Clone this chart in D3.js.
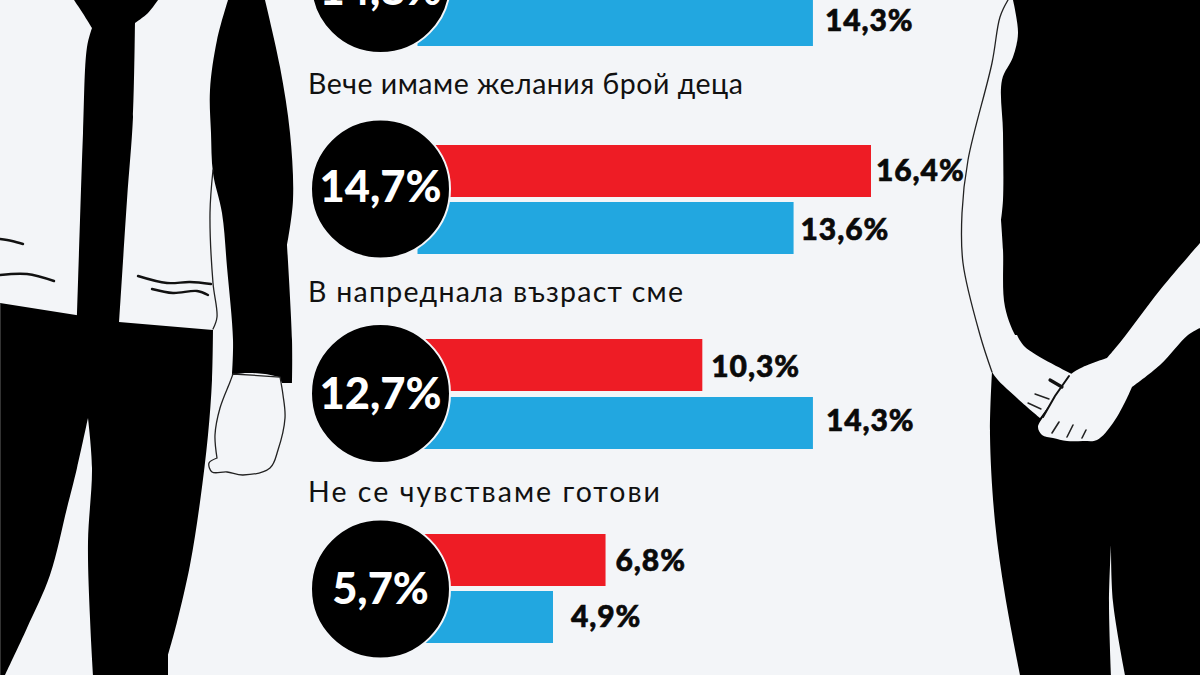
<!DOCTYPE html>
<html lang="bg">
<head>
<meta charset="utf-8">
<script src="https://cdn.jsdelivr.net/npm/d3@7"></script>
<style>
html,body{margin:0;padding:0;background:#f3f5f8;overflow:hidden}
svg{display:block}
</style>
</head>
<body>
<svg id="c" width="1200" height="675" lang="bg" xml:lang="bg"></svg>
<script>
// Data
const categories = ["Финансови причини", "Вече имаме желания брой деца", "В напреднала възраст сме", "Не се чувстваме готови"];
const captions = ["", "Вече имаме желания брой деца", "В напреднала възраст сме", "Не се чувстваме готови"];
const totals = [14.8, 14.7, 12.7, 5.7];
const womenValues = [13.0, 16.4, 10.3, 6.8];
const menValues = [14.3, 13.6, 14.3, 4.9];

const BG = "#f3f5f8", RED = "#ee1c25", BLUE = "#22a7e0", BLACK = "#000";
const fmt = v => d3.format(".1f")(v).replace(".", ",") + "%";
const svg = d3.select("#c");

svg.append("rect").attr("width", 1200).attr("height", 675).attr("fill", BG);

// ---------- silhouettes ----------
const smooth = d3.line().curve(d3.curveCatmullRom.alpha(0.5));
function shape(segs, close = true) {
  return segs.map((s, i) => { const p = smooth(s); return i ? "L" + p.slice(1) : p; }).join("") + (close ? "Z" : "");
}
const gFig = svg.append("g");
const black = (d) => gFig.append("path").attr("d", d).attr("fill", BLACK);
const white = (d) => gFig.append("path").attr("d", d).attr("fill", BG);
const outline = (d, w = 1.3, c = "#222") => gFig.append("path").attr("d", d).attr("fill", "none").attr("stroke", c).attr("stroke-width", w).attr("stroke-linecap", "round");

// left figure: tie
black(shape([
  [[74,0],[82,12],[92,28]],
  [[92,28],[87,47],[83,133],[80,220],[77,316]],
  [[77,316],[119,324]],
  [[119,324],[127,200],[133,117],[135,23]],
  [[135,23],[148,13],[158,0]]
]));
// left figure: trousers
black(shape([
  [[0,303],[76,315]],
  [[76,315],[119,322]],
  [[119,322],[213,330]],
  [[213,330],[212,380],[208,435],[200,502],[190,565],[177,622],[168,655]],
  [[168,655],[168,675]],
  [[168,675],[93,675]],
  [[93,675],[90,618],[88,542],[92,468],[88,418]],
  [[88,418],[77,468],[67,508],[50,575],[27,628],[5,675]],
  [[5,675],[0,675]]
]));
// left figure: sleeve
black(shape([
  [[228,0],[217,40],[210,90],[211,133],[213,173],[222,213],[227,267],[233,340],[232,375]],
  [[232,375],[245,373],[265,374],[279,377]],
  [[279,377],[282,383]],
  [[282,383],[292,383]],
  [[292,383],[292,340],[287,245]],
  [[287,245],[293,200],[290,133],[280,67],[265,0]]
]));
// left figure: fist
gFig.append("path").attr("d", shape([
  [[233,374],[230,382],[220,408],[215,435],[217,458]],
  [[217,458],[209,463],[212,472],[227,472],[243,475],[270,468],[278,450],[285,418],[283,395],[280,377]],
  [[280,377],[233,374]]
])).attr("fill", BG).attr("stroke", "#222").attr("stroke-width", 1.3);
// left figure: shirt edge and creases
outline(shape([[[213,170],[210,213],[213,283],[217,317],[213,329]]], false));
outline(shape([[[0,239],[12,241],[23,244]]], false), 2.4, "#111");
outline(shape([[[0,275],[27,274],[54,281]]], false), 2.4, "#111");
outline(shape([[[138,276],[167,283],[190,282],[211,284]]], false), 2.4, "#111");
outline(shape([[[152,289],[173,293],[197,291],[208,295]]], false), 2.4, "#111");
gFig.append("rect").attr("x", 0).attr("y", 303).attr("width", 1).attr("height", 372).attr("fill", "#333");

// right figure: body
black(shape([
  [[1013,0],[1018,33],[1013,57],[1002,80],[1003,133],[1003,200],[1001,220]],
  [[1001,220],[1003,250],[1005,307],[1018,340],[1030,352]],
  [[1030,352],[992,372]],
  [[992,372],[990,435],[995,522],[1005,595],[1020,675]],
  [[1020,675],[1111,675]],
  [[1111,675],[1109,602],[1111,545]],
  [[1111,545],[1113,602],[1125,675]],
  [[1125,675],[1200,675]],
  [[1200,675],[1200,0]]
]));
white(shape([
  [[980,335],[992,372],[1017,398],[1040,418]],
  [[1040,418],[1072,374]],
  [[1072,374],[1025,347],[1017,335]]
]));
white(shape([
  [[1200,243],[1160,290],[1122,340],[1107,358]],
  [[1107,358],[1083,367],[1070,375],[1055,395],[1043,417],[1038,427],[1042,435],[1053,438],[1067,441],[1083,441],[1097,440],[1113,423],[1127,398],[1132,387]],
  [[1132,387],[1160,365],[1188,335],[1200,328]]
]));
outline(shape([[[1008,0],[1000,17],[992,63],[968,160],[962,213],[963,263],[980,335],[992,372]]], false));
outline("M1069,376L1055,396L1043,417", 2, "#111");
outline("M1059,422L1052,433", 1.6, "#222");
outline("M1073,425L1067,437", 1.6, "#222");
outline("M1086,430L1082,438", 1.6, "#222");
outline("M1050,380L1062,387", 3.2, "#111");
outline("M1035,394L1049,399", 1.4, "#222");
outline("M1028,403L1041,409", 1.4, "#222");

// ---------- chart ----------
const x = d3.scaleLinear().domain([0, 16.4]).range([417.5, 871]);
const barBand = 52;
const ord = r => d3.scaleOrdinal().domain(categories).range(r);
const yRed = ord([-63, 145, 339, 534]);
const yBlue = ord([-6, 202, 397, 591]);
const yCircle = ord([-16.5, 189, 393.5, 589]);
const captionY = ord([-100, 94, 302, 502]);
const captionW = ord([0, 435, 375, 352]);
const redDx = ord([10, 5, 9, 10]);
const blueDx = ord([12, 7, 13, 18]);
const redBase = ord([36, 36, 38, 37]);
const blueBase = ord([37, 38, 34, 36]);
const totBase = ord([21.5, 12.5, 15.5, 15]);
const rows = categories.map((c, i) => ({c, caption: captions[i], total: totals[i], women: womenValues[i], men: menValues[i]}));

const g = svg.append("g");
g.selectAll(".red").data(rows).join("rect").attr("class", "red")
  .attr("x", x(0)).attr("y", d => yRed(d.c)).attr("height", barBand)
  .attr("width", d => x(d.women) - x(0)).attr("fill", RED);
g.selectAll(".blue").data(rows).join("rect").attr("class", "blue")
  .attr("x", x(0)).attr("y", d => yBlue(d.c)).attr("height", barBand)
  .attr("width", d => x(d.men) - x(0)).attr("fill", BLUE);

const vStyle = s => s.attr("font-family", "Lato, 'Noto Sans', sans-serif").attr("font-weight", 900)
  .attr("font-size", 30).attr("letter-spacing", 0.9).attr("fill", "#0a0a0a")
  .attr("stroke", "#0a0a0a").attr("stroke-width", 0.6);
g.selectAll(".vr").data(rows.slice(1)).join("text").attr("class", "vr").call(vStyle)
  .attr("x", d => x(d.women) + redDx(d.c)).attr("y", d => yRed(d.c) + redBase(d.c)).text(d => fmt(d.women));
g.selectAll(".vb").data(rows).join("text").attr("class", "vb").call(vStyle)
  .attr("x", d => x(d.men) + blueDx(d.c)).attr("y", d => yBlue(d.c) + blueBase(d.c)).text(d => fmt(d.men));

g.selectAll(".cap").data(rows.slice(1)).join("text").attr("class", "cap")
  .attr("x", 308).attr("y", d => captionY(d.c)).attr("font-size", 28.5).attr("fill", "#111")
  .attr("font-family", "Lato, 'Noto Sans', sans-serif")
  .attr("lang", "bg").attr("textLength", d => captionW(d.c)).attr("lengthAdjust", "spacing")
  .text(d => d.caption);

g.selectAll(".circ").data(rows).join("circle").attr("class", "circ")
  .attr("cx", 380.5).attr("cy", d => yCircle(d.c)).attr("r", 69.5)
  .attr("fill", BLACK).attr("stroke", BG).attr("stroke-width", 2);
g.selectAll(".tot").data(rows).join("text").attr("class", "tot")
  .attr("x", 380.5).attr("y", d => yCircle(d.c) + totBase(d.c)).attr("text-anchor", "middle")
  .attr("font-family", "Lato, 'Noto Sans', sans-serif").attr("font-weight", 900)
  .attr("font-size", 43.5).attr("fill", "#fff").text(d => fmt(d.total));
</script>
</body>
</html>
